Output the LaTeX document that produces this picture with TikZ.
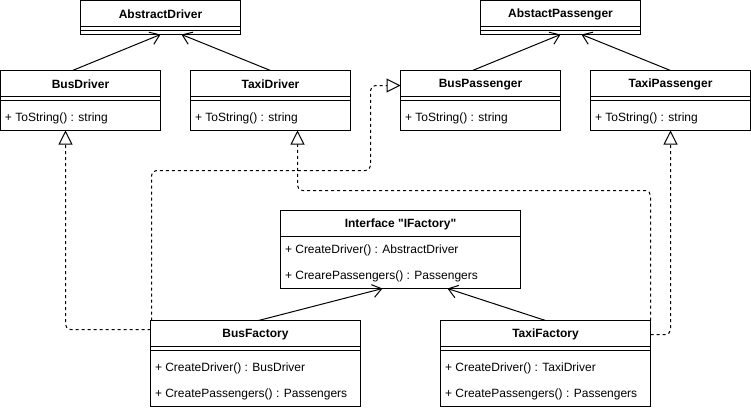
\documentclass[tikz,border=0pt]{standalone}
\usepackage{fontspec}
\setmainfont{Liberation Sans}[Ligatures=TeXOff]
\usetikzlibrary{arrows.meta,positioning}
\begin{document}
\begin{tikzpicture}[x=1pt,y=-1pt,line width=1pt,
    font=\fontsize{12}{14}\selectfont,
    head/.style={draw,fill=white,anchor=north west,minimum height=26pt,inner sep=0pt,outer sep=0pt,text height=11pt,font=\fontsize{12}{14}\selectfont\bfseries},
    body/.style={draw,fill=white,anchor=north west,inner sep=0pt,outer sep=0pt},
    row/.style={anchor=west,inner sep=0pt,yshift=-1pt},
    assoc/.style={-{Straight Barb[length=9pt,width=13pt]}},
    impl/.style={dash pattern=on 3pt off 3pt,rounded corners=5pt,-{Triangle[open,length=14pt,width=14pt]}}]
    \useasboundingbox (0,0) rectangle (751,410);

    \node[head,minimum width=160pt] (ad) at (80.5,0.5) {AbstractDriver};
    \node[body,minimum width=160pt,minimum height=8pt] (ad-b) at (ad.south west) {};
    \draw (ad-b.west) -- (ad-b.east);

    \node[head,minimum width=160pt] (ap) at (480.5,0.5) {AbstactPassenger};
    \node[body,minimum width=160pt,minimum height=8pt] (ap-b) at (ap.south west) {};
    \draw (ap-b.west) -- (ap-b.east);

    \node[head,minimum width=160pt] (bd) at (0.5,70.5) {BusDriver};
    \node[body,minimum width=160pt,minimum height=34pt] (bd-b) at (bd.south west) {};
    \draw ([yshift=-4pt]bd-b.north west) -- ([yshift=-4pt]bd-b.north east);
    \node[row] (bd-1) at ([shift={(4pt,-21pt)}]bd-b.north west) {+ ToString() : string};

    \node[head,minimum width=160pt] (td) at (190.5,70.5) {TaxiDriver};
    \node[body,minimum width=160pt,minimum height=34pt] (td-b) at (td.south west) {};
    \draw ([yshift=-4pt]td-b.north west) -- ([yshift=-4pt]td-b.north east);
    \node[row] (td-1) at ([shift={(4pt,-21pt)}]td-b.north west) {+ ToString() : string};

    \node[head,minimum width=160pt] (bp) at (400.5,70.5) {BusPassenger};
    \node[body,minimum width=160pt,minimum height=34pt] (bp-b) at (bp.south west) {};
    \draw ([yshift=-4pt]bp-b.north west) -- ([yshift=-4pt]bp-b.north east);
    \node[row] (bp-1) at ([shift={(4pt,-21pt)}]bp-b.north west) {+ ToString() : string};

    \node[head,minimum width=160pt] (tp) at (590.5,70.5) {TaxiPassenger};
    \node[body,minimum width=160pt,minimum height=34pt] (tp-b) at (tp.south west) {};
    \draw ([yshift=-4pt]tp-b.north west) -- ([yshift=-4pt]tp-b.north east);
    \node[row] (tp-1) at ([shift={(4pt,-21pt)}]tp-b.north west) {+ ToString() : string};

    \node[head,minimum width=240pt] (if) at (280.5,210.5) {Interface "IFactory"};
    \node[body,minimum width=240pt,minimum height=52pt] (if-b) at (if.south west) {};
    \node[row] (if-1) at ([shift={(4pt,-13pt)}]if-b.north west) {+ CreateDriver() : AbstractDriver};
    \node[row] (if-2) at ([shift={(4pt,-39pt)}]if-b.north west) {+ CrearePassengers() : Passengers};

    \node[head,minimum width=210pt] (bf) at (150.5,320.5) {BusFactory};
    \node[body,minimum width=210pt,minimum height=60pt] (bf-b) at (bf.south west) {};
    \draw ([yshift=-4pt]bf-b.north west) -- ([yshift=-4pt]bf-b.north east);
    \node[row] (bf-1) at ([shift={(4pt,-21pt)}]bf-b.north west) {+ CreateDriver() : BusDriver};
    \node[row] (bf-2) at ([shift={(4pt,-47pt)}]bf-b.north west) {+ CreatePassengers() : Passengers};

    \node[head,minimum width=210pt] (tf) at (440.5,320.5) {TaxiFactory};
    \node[body,minimum width=210pt,minimum height=60pt] (tf-b) at (tf.south west) {};
    \draw ([yshift=-4pt]tf-b.north west) -- ([yshift=-4pt]tf-b.north east);
    \node[row] (tf-1) at ([shift={(4pt,-21pt)}]tf-b.north west) {+ CreateDriver() : TaxiDriver};
    \node[row] (tf-2) at ([shift={(4pt,-47pt)}]tf-b.north west) {+ CreatePassengers() : Passengers};

    \draw[assoc] ([xshift=-8pt]bd.north) -- (ad-b.south);
    \draw[assoc] (td.north) -- ([xshift=21pt]ad-b.south);
    \draw[assoc] ([xshift=-8pt]bp.north) -- (ap-b.south);
    \draw[assoc] (tp.north) -- ([xshift=21pt]ap-b.south);
    \draw[assoc] ([xshift=3pt]bf.north) -- ([xshift=-18pt]if-b.south);
    \draw[assoc] (tf.north) -- ([xshift=47pt]if-b.south);

    \draw[impl] ([yshift=-9pt]bf.north west) -| ([xshift=-15pt]bd-b.south);
    \draw[impl] ([xshift=1pt]bf.north west) |- (370.5,170.5) |- ([yshift=-2pt]bp.west);
    \draw[impl] (tf.north east) -- (650.5,190.5) -| ([xshift=27pt]td-b.south);
    \draw[impl] ([yshift=-14pt]tf.north east) -| (tp-b.south);
\end{tikzpicture}
\end{document}
